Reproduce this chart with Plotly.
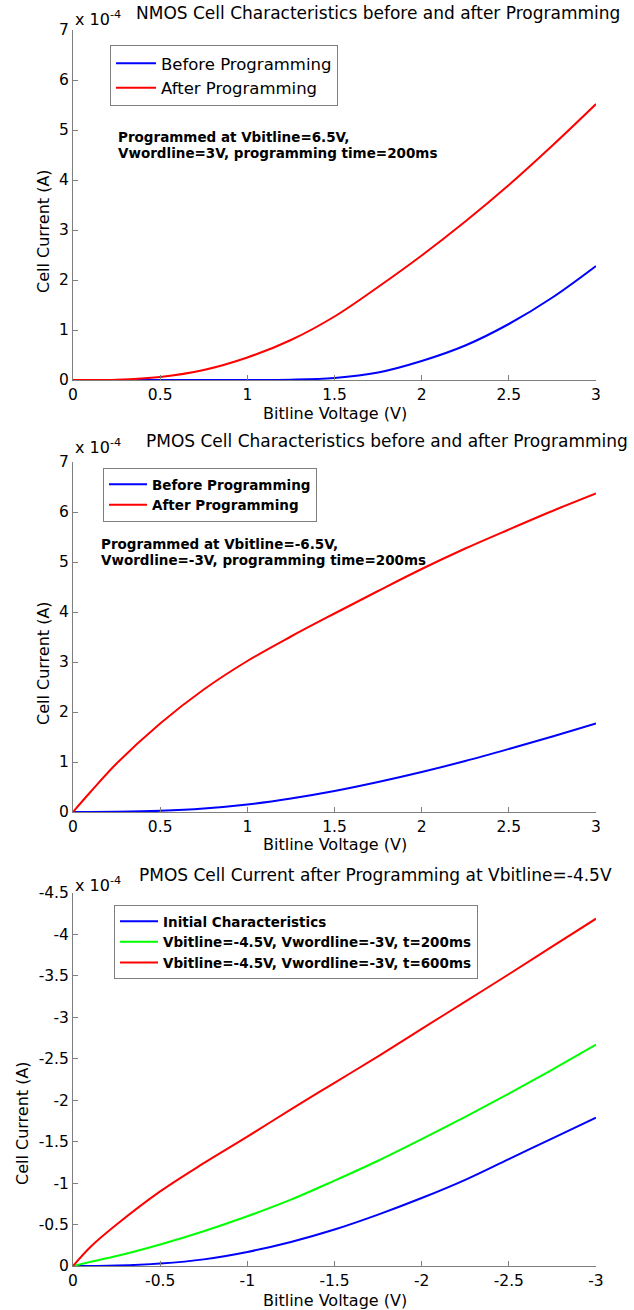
import plotly.graph_objects as go

# ---------------- data (current values in units of 1e-4 A) ----------------
v_nmos = [0, 0.25, 0.5, 0.75, 1.0, 1.25, 1.5, 1.75, 2.0, 2.25, 2.5, 2.75, 3.0]
nmos_before = [0, 0, 0, 0, 0.001, 0.006, 0.04, 0.15, 0.38, 0.69, 1.12, 1.65, 2.28]
nmos_after = [0, 0.005, 0.06, 0.2, 0.45, 0.8, 1.27, 1.86, 2.49, 3.17, 3.9, 4.69, 5.52]

v_pmos = [0, 0.1, 0.25, 0.5, 0.75, 1.0, 1.25, 1.5, 1.75, 2.0, 2.25, 2.5, 2.75, 3.0]
pmos_before = [0, 0.001, 0.005, 0.025, 0.07, 0.15, 0.27, 0.42, 0.6, 0.8, 1.02, 1.26, 1.51, 1.77]
pmos_after = [0, 0.4, 0.97, 1.77, 2.45, 3.02, 3.51, 3.97, 4.42, 4.86, 5.27, 5.65, 6.02, 6.37]

v_prog = [0, -0.1, -0.25, -0.5, -0.75, -1.0, -1.25, -1.5, -1.75, -2.0, -2.25, -2.5, -2.75, -3.0]
prog_initial = [0, -0.001, -0.005, -0.03, -0.08, -0.17, -0.29, -0.44, -0.62, -0.82, -1.04, -1.29, -1.54, -1.79]
prog_200ms = [0, -0.05, -0.12, -0.26, -0.42, -0.6, -0.8, -1.03, -1.27, -1.53, -1.8, -2.08, -2.37, -2.67]
prog_600ms = [0, -0.23, -0.5, -0.9, -1.24, -1.56, -1.89, -2.21, -2.53, -2.86, -3.19, -3.52, -3.855, -4.19]

x_ticks_pos = [0, 0.5, 1, 1.5, 2, 2.5, 3]
x_ticks_neg = [0, -0.5, -1, -1.5, -2, -2.5, -3]
y_ticks_pos = [0, 1, 2, 3, 4, 5, 6, 7]
y_ticks_neg = [0, -0.5, -1, -1.5, -2, -2.5, -3, -3.5, -4, -4.5]


def lab(v):
    return "%g" % v


# ---------------- geometry helpers ----------------
W, H = 634, 1310
ML, MR, MT, MB = 73, 38, 30, 44
PW, PH = W - ML - MR, H - MT - MB


def px(x):
    return (x - ML) / PW


def py(y):
    return (H - MB - y) / PH


FONT = "DejaVu Sans"
AX = "#7f7f7f"
BLUE, RED, GREEN = "#0000ff", "#ff0000", "#00ff00"


def line(color):
    return dict(color=color, width=2, shape="spline", smoothing=1.0)


fig = go.Figure()

fig.add_trace(go.Scatter(x=v_nmos, y=nmos_before, mode="lines", name="Before Programming",
                         line=line(BLUE), xaxis="x", yaxis="y", legend="legend"))
fig.add_trace(go.Scatter(x=v_nmos, y=nmos_after, mode="lines", name="After Programming",
                         line=line(RED), xaxis="x", yaxis="y", legend="legend"))

fig.add_trace(go.Scatter(x=v_pmos, y=pmos_before, mode="lines", name="Before Programming",
                         line=line(BLUE), xaxis="x2", yaxis="y2", legend="legend2"))
fig.add_trace(go.Scatter(x=v_pmos, y=pmos_after, mode="lines", name="After Programming",
                         line=line(RED), xaxis="x2", yaxis="y2", legend="legend2"))

fig.add_trace(go.Scatter(x=v_prog, y=prog_initial, mode="lines", name="Initial Characteristics",
                         line=line(BLUE), xaxis="x3", yaxis="y3", legend="legend3"))
fig.add_trace(go.Scatter(x=v_prog, y=prog_200ms, mode="lines",
                         name="Vbitline=-4.5V, Vwordline=-3V, t=200ms",
                         line=line(GREEN), xaxis="x3", yaxis="y3", legend="legend3"))
fig.add_trace(go.Scatter(x=v_prog, y=prog_600ms, mode="lines",
                         name="Vbitline=-4.5V, Vwordline=-3V, t=600ms",
                         line=line(RED), xaxis="x3", yaxis="y3", legend="legend3"))

axis_common = dict(showline=True, linecolor=AX, linewidth=1, ticks="inside", ticklen=5,
                   tickcolor=AX, showgrid=False, zeroline=False, mirror=False,
                   tickfont=dict(family=FONT, size=15.5, color="black"))

panels = [(30, 380), (462, 812), (893, 1266)]

fig.update_layout(
    width=W, height=H,
    margin=dict(l=ML, r=MR, t=MT, b=MB),
    paper_bgcolor="white", plot_bgcolor="white",
    xaxis=dict(domain=[0, 1], range=[0, 3], anchor="y", tickvals=x_ticks_pos,
               ticktext=[lab(v) for v in x_ticks_pos], **axis_common),
    yaxis=dict(domain=[py(panels[0][1]), py(panels[0][0])], range=[0, 7], anchor="x",
               tickvals=y_ticks_pos, ticktext=[lab(v) for v in y_ticks_pos], **axis_common),
    xaxis2=dict(domain=[0, 1], range=[0, 3], anchor="y2", tickvals=x_ticks_pos,
                ticktext=[lab(v) for v in x_ticks_pos], **axis_common),
    yaxis2=dict(domain=[py(panels[1][1]), py(panels[1][0])], range=[0, 7], anchor="x2",
                tickvals=y_ticks_pos, ticktext=[lab(v) for v in y_ticks_pos], **axis_common),
    xaxis3=dict(domain=[0, 1], range=[0, -3], anchor="y3", tickvals=x_ticks_neg,
                ticktext=[lab(v) for v in x_ticks_neg], **axis_common),
    yaxis3=dict(domain=[py(panels[2][1]), py(panels[2][0])], range=[0, -4.5], anchor="x3",
                tickvals=y_ticks_neg, ticktext=[lab(v) for v in y_ticks_neg], **axis_common),
    showlegend=True,
    legend=dict(x=px(110), y=py(75.5), xanchor="left", yanchor="middle", bgcolor="white",
                bordercolor=AX, borderwidth=1, itemwidth=40,
                font=dict(family=FONT, size=16.5, color="black"), tracegroupgap=0),
    legend2=dict(x=px(103), y=py(495), xanchor="left", yanchor="middle", bgcolor="white",
                 bordercolor=AX, borderwidth=1, itemwidth=38,
                 font=dict(family=FONT, size=13.5, color="black", weight="bold"),
                 tracegroupgap=0),
    legend3=dict(x=px(114), y=py(942), xanchor="left", yanchor="middle", bgcolor="white",
                 bordercolor=AX, borderwidth=1, itemwidth=38,
                 font=dict(family=FONT, size=13.5, color="black", weight="bold"),
                 tracegroupgap=0),
)

ann = []


def text(x, y, s, size, bold=False, xanchor="left", yanchor="middle", angle=0):
    ann.append(dict(x=px(x), y=py(y), xref="paper", yref="paper", text=s, showarrow=False,
                    xanchor=xanchor, yanchor=yanchor, textangle=angle, align="left",
                    font=dict(family=FONT, size=size, color="black",
                              weight="bold" if bold else "normal")))


# titles
text(134, 13, "NMOS Cell Characteristics before and after Programming", 17)
text(144, 441, "PMOS Cell Characteristics before and after Programming", 17)
text(137, 875, "PMOS Cell Current after Programming at Vbitline=-4.5V", 17)

# exponent labels
for yc in (18, 447, 884):
    text(73, yc, "x 10<sup>-4</sup>", 16)

# axis labels
for yc in (413, 844, 1300):
    text(334.5, yc, "Bitline Voltage (V)", 16, xanchor="center")
for xc, yc in ((43, 231), (43, 663), (22, 1123)):
    text(xc, yc, "Cell Current (A)", 16, xanchor="center", angle=-90)

# programming notes
text(116, 137, "Programmed at Vbitline=6.5V,", 13.5, bold=True)
text(116, 153, "Vwordline=3V, programming time=200ms", 13.5, bold=True)
text(99, 544, "Programmed at Vbitline=-6.5V,", 13.5, bold=True)
text(99, 560, "Vwordline=-3V, programming time=200ms", 13.5, bold=True)

fig.update_layout(annotations=ann)

fig.write_html("out.html")
